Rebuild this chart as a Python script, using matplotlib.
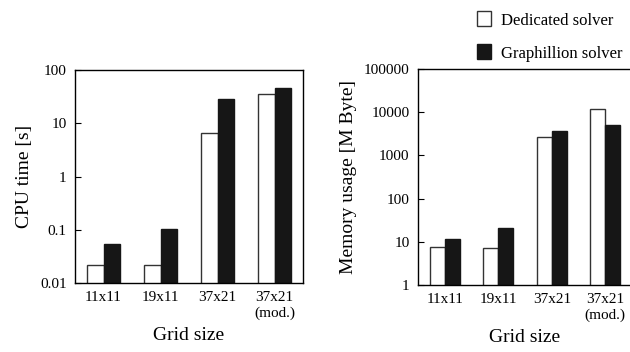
import matplotlib
matplotlib.use("Agg")
import matplotlib.pyplot as plt
import numpy as np

# DATA
grids = ["11x11", "19x11", "37x21", "37x21\n(mod.)"]
cpu_dedicated = [0.022, 0.022, 6.7, 35]
cpu_graphillion = [0.055, 0.103, 28, 45]
mem_dedicated = [7.7, 7.2, 2700, 11800]
mem_graphillion = [11.6, 20.7, 3600, 5000]
labels = ["Dedicated solver", "Graphillion solver"]

plt.rcParams['font.family'] = ['Liberation Serif', 'DejaVu Serif']

fig = plt.figure(figsize=(6.3, 3.52), dpi=100)
ax1 = fig.add_axes([75/630, 1 - 283/352, 228/630, 213/352])
ax2 = fig.add_axes([418/630, 1 - 285/352, 214/630, 216/352])

x = np.arange(len(grids))
w = 0.285


def draw(ax, a, b, ylim, ticks, ylabel):
    ax.set_yscale("log")
    ax.bar(x - w/2, a, w, color="white", edgecolor="#333333", linewidth=1.0,
           label=labels[0])
    ax.bar(x + w/2, b, w, color="#161616", edgecolor="#161616", linewidth=1.0,
           label=labels[1])
    ax.set_ylim(*ylim)
    ax.set_xlim(-0.5, 3.5)
    ax.set_yticks(ticks)
    ax.set_yticklabels([("%g" % t) if t < 1 else str(int(t)) for t in ticks])
    ax.minorticks_off()
    ax.set_xticks(x)
    ax.set_xticklabels(grids, fontsize=11, linespacing=1.25)
    ax.tick_params(axis="x", length=0, pad=6)
    ax.tick_params(axis="y", direction="in", length=4, labelsize=11, pad=6)
    ax.set_xlabel("Grid size", fontsize=14, labelpad=5)
    ax.set_ylabel(ylabel, fontsize=14, labelpad=5)
    for s in ax.spines.values():
        s.set_linewidth(1.0)


draw(ax1, cpu_dedicated, cpu_graphillion, (0.01, 100),
     [0.01, 0.1, 1, 10, 100], "CPU time [s]")
draw(ax2, mem_dedicated, mem_graphillion, (1, 100000),
     [1, 10, 100, 1000, 10000, 100000], "Memory usage [M Byte]")

h, l = ax2.get_legend_handles_labels()
fig.legend(h, l, loc="upper left", bbox_to_anchor=(462/630, 1.01),
           frameon=False, fontsize=12, handlelength=0.85, handleheight=1.0,
           handletextpad=0.6, labelspacing=0.95)

fig.savefig("out.png", dpi=100)
